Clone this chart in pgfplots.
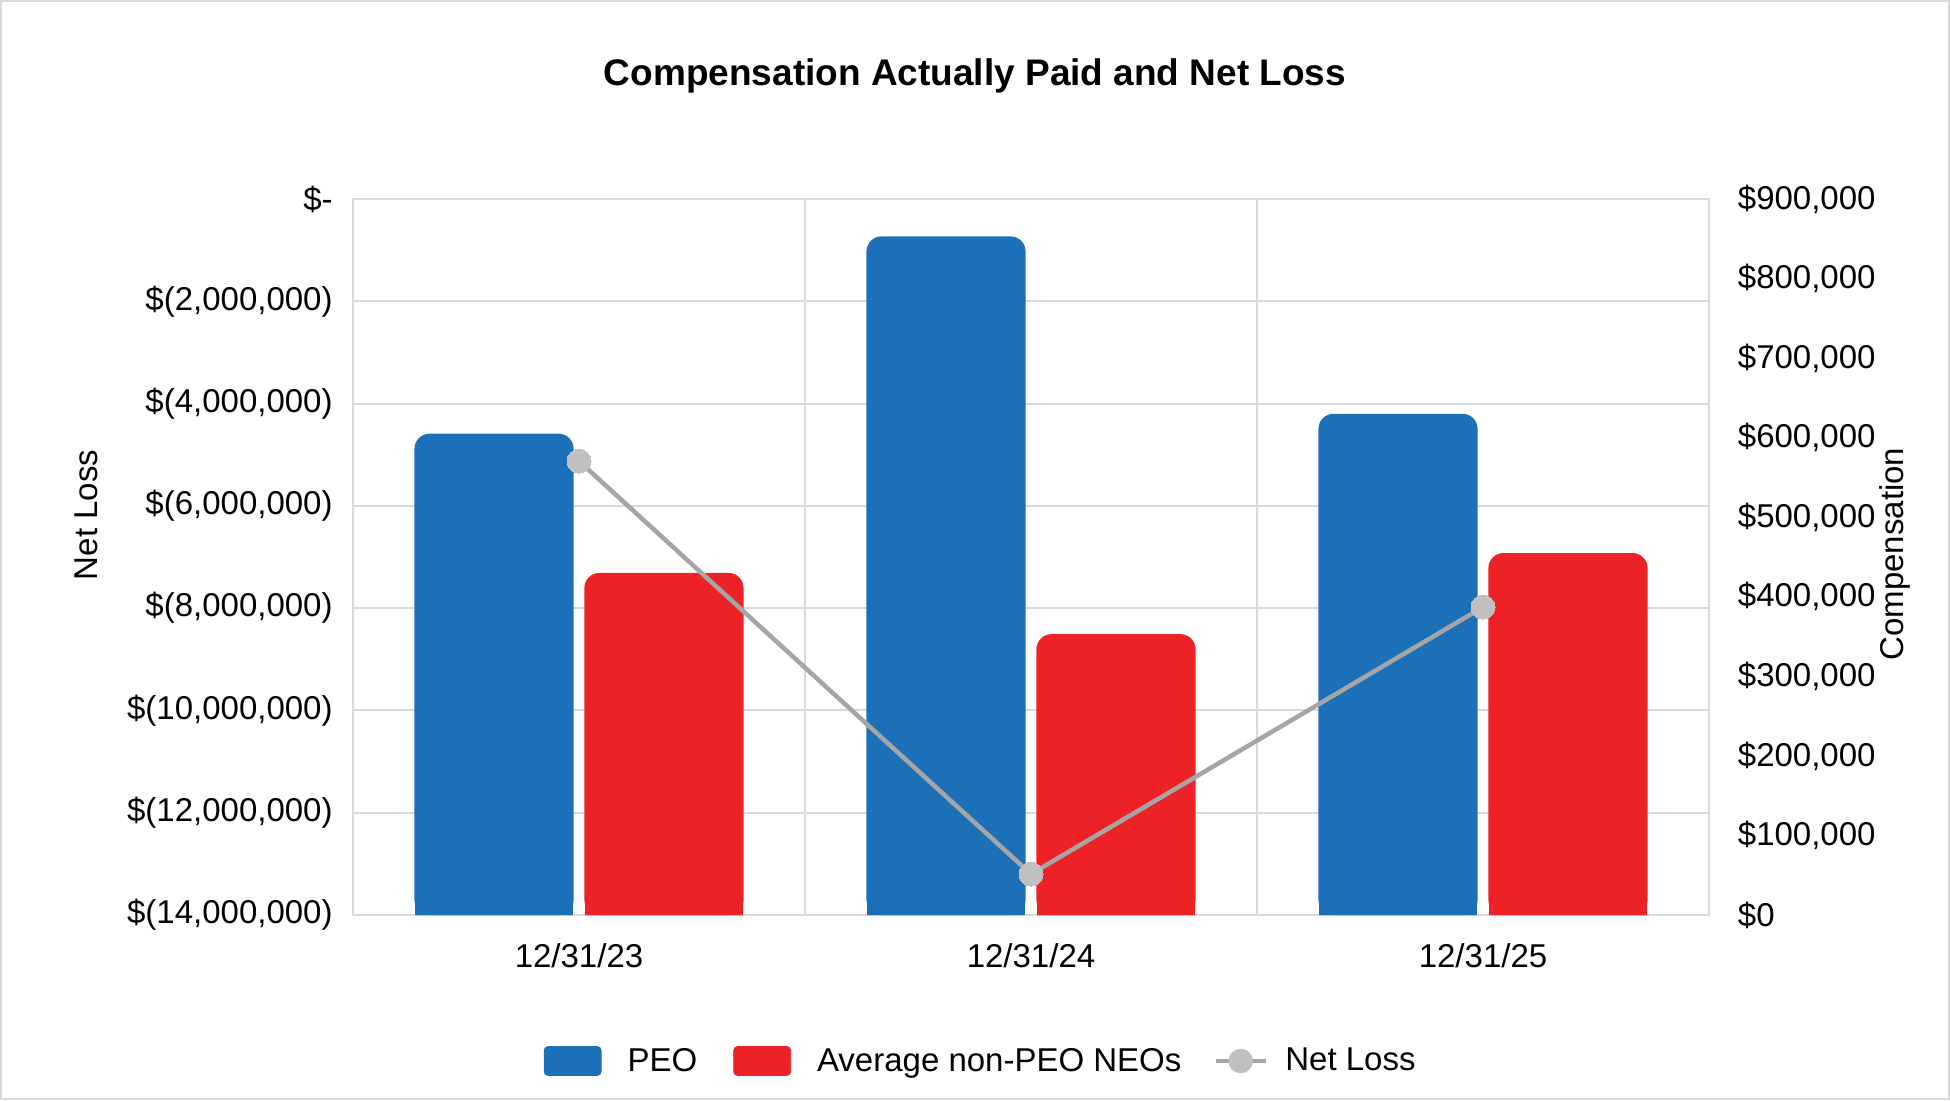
\documentclass[border=0pt]{standalone}
\usepackage{pgfplots}
\usepackage{pgfplotstable}
\pgfplotsset{compat=1.18}
\usepackage{fontspec}
\setmainfont{Liberation Sans}
\definecolor{peoblue}{HTML}{1B70B8}
\definecolor{neored}{HTML}{ED2227}
\definecolor{gridgray}{HTML}{D9D9D9}
\definecolor{linegray}{HTML}{A5A5A5}
\definecolor{markgray}{HTML}{C0C0C0}
\pgfplotstableread{
x peo neo loss
0 605000 430000 -5125000
1 853000 353000 -13200000
2 630000 455000 -7980000
}\datatable
\newcommand{\tickfont}{\fontsize{16.5}{19.8}\selectfont}
\begin{document}
\begin{tikzpicture}
\useasboundingbox (0,0) rectangle (975pt,550pt);
\draw[gridgray, line width=1pt] (0.5pt,0.5pt) rectangle (974.5pt,549.5pt);
% Axis 1: left axis, grid, frame, title
\begin{axis}[
  at={(176.5pt,92.5pt)}, anchor=south west,
  scale only axis, width=678pt, height=358pt,
  xmin=-0.5, xmax=2.5, ymin=-14000000, ymax=0,
  xtick={0.5,1.5}, xticklabels={},
  ytick={-14000000,-12000000,-10000000,-8000000,-6000000,-4000000,-2000000,0},
  yticklabels={{\$(14,000,000)},{\$(12,000,000)},{\$(10,000,000)},{\$(8,000,000)},{\$(6,000,000)},{\$(4,000,000)},{\$(2,000,000)},{\$-}},
  scaled y ticks=false,
  xmajorgrids, ymajorgrids,
  grid style={gridgray, line width=1pt},
  axis line style={gridgray, line width=1pt},
  major tick length=0pt,
  tick label style={font=\tickfont, inner sep=0pt},
  yticklabel style={anchor=east, xshift=-10pt},
  ylabel={Net Loss},
  every axis y label/.style={at={(axis description cs:-0.1969,0.5587)}, rotate=90, anchor=center, font=\tickfont},
  title={Compensation Actually Paid and Net Loss},
  every axis title/.style={at={(axis description cs:0.4587,1.1720)}, anchor=center, font=\fontsize{18.5}{22}\selectfont\bfseries},
]
\end{axis}
% Axis 2: right axis with bars
\begin{axis}[
  at={(176.5pt,92.5pt)}, anchor=south west,
  scale only axis, width=678pt, height=358pt,
  xmin=-0.5, xmax=2.5, ymin=0, ymax=900000,
  xtick={0,1,2}, xticklabels={12/31/23,12/31/24,12/31/25},
  ytick={0,100000,200000,300000,400000,500000,600000,700000,800000,900000},
  yticklabels={{\$0},{\$100,000},{\$200,000},{\$300,000},{\$400,000},{\$500,000},{\$600,000},{\$700,000},{\$800,000},{\$900,000}},
  scaled y ticks=false,
  yticklabel pos=right,
  axis line style={draw=none},
  major tick length=0pt,
  tick label style={font=\tickfont, inner sep=0pt},
  yticklabel style={anchor=west, xshift=14.25pt},
  xticklabel style={anchor=base, yshift=-26.4pt},
  ylabel={Compensation},
  every axis y label/.style={at={(axis description cs:1.1372,0.504)}, rotate=90, anchor=center, font=\tickfont},
]
\addplot[ybar, bar width=0.352, bar shift=-0.188, fill=peoblue, draw=none, rounded corners=7.5pt] table[x=x, y=peo] {\datatable};
\addplot[ybar, bar width=0.352, bar shift=0.188, fill=neored, draw=none, rounded corners=7.5pt] table[x=x, y=neo] {\datatable};
% square bottoms (cover the lower rounded corners)
\addplot[ybar, bar width=0.349, bar shift=-0.188, fill=peoblue, draw=none] table[x=x, y expr=25000] {\datatable};
\addplot[ybar, bar width=0.349, bar shift=0.188, fill=neored, draw=none] table[x=x, y expr=25000] {\datatable};
\end{axis}
% Axis 3: left axis with net loss line and legend
\begin{axis}[
  at={(176.5pt,92.5pt)}, anchor=south west,
  scale only axis, width=678pt, height=358pt,
  xmin=-0.5, xmax=2.5, ymin=-14000000, ymax=0,
  xtick=\empty, ytick=\empty,
  axis line style={draw=none},
  clip=false,
  legend columns=3,
  legend style={at={(axis description cs:0.1404,-0.2039)}, anchor=west, draw=none, fill=none,
    font=\tickfont, inner sep=0pt,
    /tikz/every odd column/.append style={column sep=11pt},
    /tikz/every even column/.append style={column sep=16pt}},
]
\addlegendimage{legend image code/.code={\fill[peoblue, rounded corners=2pt] (0pt,-7.25pt) rectangle (28.5pt,7.25pt);}}
\addlegendentry{PEO}
\addlegendimage{legend image code/.code={\fill[neored, rounded corners=2pt] (0pt,-7.25pt) rectangle (28.5pt,7.25pt);}}
\addlegendentry{Average non-PEO NEOs}
\addplot[linegray, line width=2.25pt, mark=*, mark size=6pt, mark options={fill=markgray, draw=markgray, line width=0pt},
  legend image code/.code={\path (0pt,0pt) -- (18.7pt,0pt); \draw[overlay, linegray, line width=2.25pt] (-2pt,0pt) -- (23pt,0pt); \fill[overlay, markgray] (10.5pt,0pt) circle (5pt);}]
  table[x=x, y=loss] {\datatable};
\addlegendentry{Net Loss}
\end{axis}
\end{tikzpicture}
\end{document}
